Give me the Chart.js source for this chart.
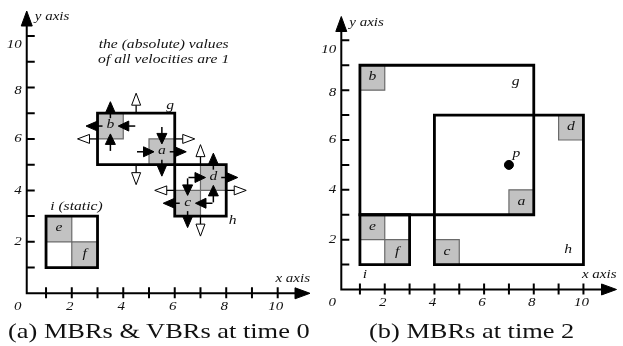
<!DOCTYPE html>
<html>
<head>
<meta charset="utf-8">
<script src="https://cdn.jsdelivr.net/npm/chart.js@4/dist/chart.umd.min.js"></script>
<style>
  body { margin: 0; background: #fff; width: 623px; height: 346px; position: relative; overflow: hidden; }
  canvas { position: absolute; top: 0; }
  #panelA { left: 0; }
  #panelB { left: 310px; }
  .cap {
    position: absolute; top: 320px; font-family: "Liberation Serif", serif; font-size: 22px;
    line-height: 22px; white-space: nowrap; color: #111; transform: scale(1.2, 1); transform-origin: left top;
  }
</style>
</head>
<body>
<canvas id="panelA" width="311" height="346"></canvas>
<canvas id="panelB" width="313" height="346"></canvas>
<div class="cap" style="left:8px">(a) MBRs &amp; VBRs at time 0</div>
<div class="cap" style="left:369px">(b) MBRs at time 2</div>
<script>
// objects, each box is [xmin, xmax, ymin, ymax]
const objNames = ["a", "b", "c", "d", "e", "f"];
const objTime0 = [[5, 6, 5, 6], [3, 4, 6, 7], [6, 7, 3, 4], [7, 8, 4, 5], [1, 2, 2, 3], [2, 3, 1, 2]];
const objTime2 = [[7, 8, 3, 4], [1, 2, 8, 9], [4, 5, 1, 2], [9, 10, 6, 7], [1, 2, 2, 3], [2, 3, 1, 2]];
const objVx = [1, -1, -1, 1, 0, 0];
const objVy = [-1, 1, -1, 1, 0, 0];

// MBRs of the tree nodes
const mbrNames = ["g", "h", "i"];
const mbrTime0 = [[3, 6, 5, 7], [6, 8, 3, 5], [1, 3, 1, 3]];
const mbrTime2 = [[1, 8, 3, 9], [4, 10, 1, 7], [1, 3, 1, 3]];
// VBRs: [vx low edge, vx high edge, vy low edge, vy high edge]
const mbrVbr = [[-1, 1, -1, 1], [-1, 1, -1, 1], [0, 0, 0, 0]];

const queryP = [7, 5];

const tickValues = [1, 2, 3, 4, 5, 6, 7, 8, 9, 10];
const xLabelValues = [0, 2, 4, 6, 8, 10];
const yLabelValues = [2, 4, 6, 8, 10];

const FONT = '"Liberation Serif", "Times New Roman", serif';
const INK = "#111";

function rectPoints(r) {
  return [
    { x: r[0], y: r[2] }, { x: r[1], y: r[2] }, { x: r[1], y: r[3] },
    { x: r[0], y: r[3] }, { x: r[0], y: r[2] }
  ];
}

function wideText(ctx, txt, x, y, align, size) {
  ctx.save();
  ctx.translate(x, y);
  ctx.scale(1.2, 1);
  ctx.font = "italic " + size + "px " + FONT;
  ctx.fillStyle = INK;
  ctx.textAlign = align;
  ctx.textBaseline = "middle";
  ctx.fillText(txt, 0, 0);
  ctx.restore();
}

function head(ctx, tx, ty, dx, dy, len, half, open) {
  const bx = tx - dx * len, by = ty - dy * len;
  ctx.beginPath();
  ctx.moveTo(tx, ty);
  ctx.lineTo(bx - dy * half, by + dx * half);
  ctx.lineTo(bx + dy * half, by - dx * half);
  ctx.closePath();
  ctx.fillStyle = open ? "#fff" : "#000";
  ctx.fill();
  ctx.lineWidth = 1;
  ctx.strokeStyle = "#000";
  ctx.stroke();
}

function stem(ctx, x1, y1, x2, y2, w) {
  ctx.beginPath();
  ctx.moveTo(x1, y1);
  ctx.lineTo(x2, y2);
  ctx.lineWidth = w;
  ctx.strokeStyle = "#000";
  ctx.stroke();
}

// (ex, ey) is the edge point in pixels, (dx, dy) the velocity direction in pixels,
// outward tells whether it points away from the box
function objectArrow(ctx, ex, ey, dx, dy, outward) {
  if (outward) {
    stem(ctx, ex - dx * 5, ey - dy * 5, ex, ey, 1.5);
    head(ctx, ex + dx * 11.5, ey + dy * 11.5, dx, dy, 11.5, 5, false);
  } else {
    stem(ctx, ex - dx * 12, ey - dy * 12, ex - dx * 5, ey - dy * 5, 1.5);
    head(ctx, ex + dx * 5, ey + dy * 5, dx, dy, 10.5, 5, false);
  }
}

function vbrArrow(ctx, ex, ey, dx, dy) {
  stem(ctx, ex, ey, ex + dx * 8, ey + dy * 8, 1.3);
  head(ctx, ex + dx * 20, ey + dy * 20, dx, dy, 12, 4.5, true);
}

function edgeArrows(ctx, xs, ys, box, v, drawFn) {
  // v = [vxLo, vxHi, vyLo, vyHi]
  const cx = (box[0] + box[1]) / 2, cy = (box[2] + box[3]) / 2;
  const edges = [
    [box[0], cy, v[0], 0, -1], [box[1], cy, v[1], 0, 1],
    [cx, box[2], v[2], 1, -1], [cx, box[3], v[3], 1, 1]
  ];
  for (const [vx, vy, vel, vertical, side] of edges) {
    if (!vel) continue;
    const px = xs.getPixelForValue(vx), py = ys.getPixelForValue(vy);
    const dx = vertical ? 0 : Math.sign(vel);
    const dy = vertical ? -Math.sign(vel) : 0;
    drawFn(ctx, px, py, dx, dy, Math.sign(vel) === side);
  }
}

const axisPlugin = {
  id: "axes",
  beforeDatasetsDraw(chart) {
    const ctx = chart.ctx, xs = chart.scales.x, ys = chart.scales.y, area = chart.chartArea;
    const ax = xs.getPixelForValue(0.25), ay = ys.getPixelForValue(0);
    ctx.save();
    ctx.strokeStyle = "#000";
    ctx.lineWidth = 2;
    ctx.beginPath();
    ctx.moveTo(ax, ay + 1); ctx.lineTo(ax, area.top + 20);
    ctx.moveTo(ax - 1, ay); ctx.lineTo(area.right - 12, ay);
    for (const t of tickValues) {
      const px = xs.getPixelForValue(t), py = ys.getPixelForValue(t);
      ctx.moveTo(px, ay - 6); ctx.lineTo(px, ay + 5);
      ctx.moveTo(ax, py); ctx.lineTo(ax + 8, py);
    }
    ctx.stroke();
    head(ctx, ax, area.top + 11, 0, -1, 15, 5.5, false);
    head(ctx, area.right - 1, ay, 1, 0, 15, 5.5, false);
    for (const v of xLabelValues) {
      const px = v === 0 ? ax - 9 : xs.getPixelForValue(v) - 2;
      wideText(ctx, String(v), px, ay + 13, "center", 12.5);
    }
    for (const v of yLabelValues) {
      const py = ys.getPixelForValue(v) + (v === 10 ? 9 : v === 8 ? 3 : 0);
      wideText(ctx, String(v), ax - 5, py, "right", 12.5);
    }
    wideText(ctx, "y axis", ax + 8, area.top + 17, "left", 12.5);
    wideText(ctx, "x axis", area.right - 1, ay - 15, "right", 12.5);
    ctx.restore();
  }
};

function makePanel(id, objBoxes, mbrBoxes, extra) {
  const canvas = document.getElementById(id);
  const datasets = [];
  mbrBoxes.forEach(function (r, i) {
    datasets.push({
      label: mbrNames[i], data: rectPoints(r), showLine: true, fill: false,
      borderColor: "#000", borderWidth: 2.8, borderCapStyle: "square", borderJoinStyle: "miter",
      pointRadius: 0, order: 1
    });
  });
  objBoxes.forEach(function (r, i) {
    datasets.push({
      label: objNames[i], data: rectPoints(r), showLine: true, fill: "shape",
      backgroundColor: "#c2c2c2", borderColor: "#6a6a6a", borderWidth: 1.2,
      borderCapStyle: "square", pointRadius: 0, order: 2
    });
  });
  if (extra.point) {
    datasets.push({
      label: "p", data: [{ x: extra.point[0], y: extra.point[1] }], showLine: false,
      pointRadius: 4.5, pointBackgroundColor: "#000", pointBorderColor: "#000", order: 0
    });
  }
  const w = canvas.width, h = canvas.height;
  new Chart(canvas.getContext("2d"), {
    type: "scatter",
    data: { datasets: datasets },
    options: {
      responsive: false,
      animation: false,
      layout: { padding: 0 },
      elements: { line: { tension: 0 } },
      plugins: { legend: { display: false }, tooltip: { enabled: false } },
      scales: {
        x: { type: "linear", display: false, min: -20.3 / 25.74, max: (w - 20.3) / 25.74 },
        y: { type: "linear", display: false, min: (293.3 - h) / 25.73, max: 293.3 / 25.73 }
      }
    },
    plugins: [axisPlugin, {
      id: "marks",
      afterDatasetsDraw(chart) {
        const ctx = chart.ctx, xs = chart.scales.x, ys = chart.scales.y;
        ctx.save();
        if (extra.arrows) {
          objBoxes.forEach(function (r, i) {
            edgeArrows(ctx, xs, ys, r, [objVx[i], objVx[i], objVy[i], objVy[i]], objectArrow);
          });
          mbrBoxes.forEach(function (r, i) {
            edgeArrows(ctx, xs, ys, r, mbrVbr[i], vbrArrow);
          });
        }
        objBoxes.forEach(function (r, i) {
          wideText(ctx, objNames[i], xs.getPixelForValue((r[0] + r[1]) / 2),
            ys.getPixelForValue((r[2] + r[3]) / 2) - 1, "center", 13);
        });
        extra.labels.forEach(function (l) {
          wideText(ctx, l[0], xs.getPixelForValue(l[1]), ys.getPixelForValue(l[2]), l[3] || "center", 13);
        });
        ctx.restore();
      }
    }]
  });
}

document.addEventListener("DOMContentLoaded", function () {
  makePanel("panelA", objTime0, mbrTime0, {
    arrows: true,
    labels: [
      ["g", 5.82, 7.3], ["h", 8.25, 2.82], ["i (static)", 1.16, 3.36, "left"],
      ["the (absolute) values", 5.57, 9.65], ["of all velocities are 1", 5.57, 9.1]
    ]
  });
  makePanel("panelB", objTime2, mbrTime2, {
    point: queryP,
    labels: [["g", 7.27, 8.36], ["h", 9.38, 1.59], ["i", 1.2, 0.58], ["p", 7.3, 5.44]]
  });
});
</script>
</body>
</html>
